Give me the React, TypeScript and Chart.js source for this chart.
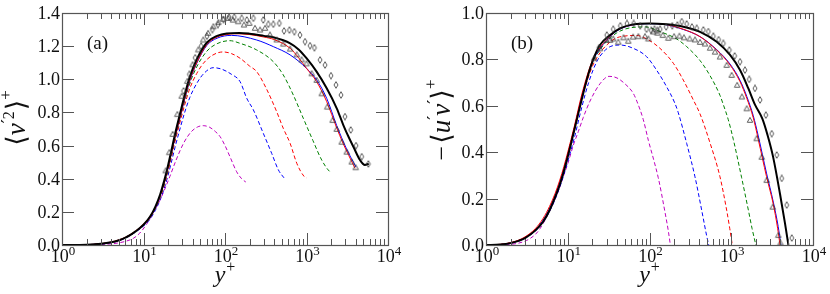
import React, { useEffect, useRef } from "react";
import { Chart, registerables } from "chart.js";
Chart.register(...registerables);

// ---------- Panel (a): <v'^2>+ ----------
const aBlackX = [1, 2, 3, 4, 5, 6, 7, 8, 10, 12, 14, 16, 18, 20, 22, 24.4, 28, 32, 37, 45, 60, 80, 105, 150, 200, 300, 400, 630, 800, 1000, 1330, 1770, 2350, 2830, 3300, 3760, 4530, 5200, 5800];
const aBlackY = [0, 0.002, 0.007, 0.016, 0.029, 0.045, 0.063, 0.082, 0.122, 0.17, 0.232, 0.305, 0.39, 0.48, 0.57, 0.67, 0.79, 0.905, 1.015, 1.12, 1.222, 1.262, 1.277, 1.28, 1.275, 1.262, 1.252, 1.217, 1.18, 1.127, 1.046, 0.946, 0.825, 0.724, 0.65, 0.593, 0.513, 0.483, 0.49];
const aRedX = [1, 2, 3, 4, 5, 6, 7, 8, 10, 12, 14, 16, 18, 20, 22, 24.4, 28, 32, 37, 45, 60, 80, 105, 130, 200, 300, 400, 630, 800, 1000, 1330, 1770, 2350, 2800, 3300, 3940];
const aRedY = [0, 0.002, 0.008, 0.018, 0.031, 0.047, 0.066, 0.085, 0.126, 0.172, 0.23, 0.3, 0.38, 0.465, 0.555, 0.65, 0.77, 0.885, 0.995, 1.1, 1.21, 1.255, 1.27, 1.275, 1.27, 1.255, 1.24, 1.187, 1.13, 1.066, 0.986, 0.865, 0.706, 0.615, 0.54, 0.463];
const aBlueX = [1, 2, 3, 4, 5, 6, 7, 8, 10, 12, 14, 16, 18, 20, 22, 24.4, 28, 32, 37, 45, 60, 80, 120, 245, 392, 630, 1000, 1334, 1770, 2350, 3100, 4050];
const aBlueY = [0, 0.002, 0.007, 0.016, 0.029, 0.045, 0.063, 0.082, 0.121, 0.168, 0.228, 0.298, 0.38, 0.465, 0.553, 0.648, 0.765, 0.88, 0.99, 1.097, 1.205, 1.248, 1.265, 1.237, 1.197, 1.147, 1.066, 0.996, 0.885, 0.72, 0.58, 0.47];
const aGreenX = [1, 2, 3, 4, 5, 6, 7, 8, 10, 12, 14, 16, 18, 20, 22, 24.4, 28, 32, 37, 45, 60, 80, 115, 153, 245, 392, 519, 689, 913, 1200, 1536, 1942, 2000];
const aGreenY = [0, 0.002, 0.007, 0.016, 0.028, 0.044, 0.062, 0.081, 0.12, 0.165, 0.224, 0.292, 0.37, 0.455, 0.545, 0.64, 0.76, 0.87, 0.975, 1.075, 1.17, 1.215, 1.233, 1.217, 1.177, 1.106, 1.026, 0.905, 0.765, 0.63, 0.513, 0.442, 0.44];
const aRedDX = [1, 2, 3, 4, 5, 6, 7, 8, 10, 12, 14, 16, 18, 20, 22, 24.4, 28, 32, 37, 45, 54, 70, 95, 120, 153, 200, 245, 320, 431, 519, 629, 760, 930, 1000];
const aRedDY = [0, 0.002, 0.007, 0.015, 0.027, 0.043, 0.061, 0.08, 0.118, 0.162, 0.22, 0.285, 0.36, 0.445, 0.53, 0.625, 0.74, 0.845, 0.945, 1.035, 1.095, 1.145, 1.165, 1.155, 1.127, 1.08, 1.046, 0.946, 0.804, 0.704, 0.614, 0.493, 0.415, 0.405];
const aBlueDX = [1, 2, 3, 4, 5, 6, 7, 8, 10, 12, 14, 16, 18, 20, 22, 24.4, 28, 32, 37, 45, 55, 72, 90, 120, 153, 185, 223, 295, 374, 452, 540];
const aBlueDY = [0, 0.002, 0.006, 0.014, 0.026, 0.041, 0.059, 0.078, 0.114, 0.155, 0.21, 0.272, 0.343, 0.42, 0.5, 0.59, 0.7, 0.8, 0.89, 0.975, 1.035, 1.07, 1.062, 1.03, 0.986, 0.885, 0.815, 0.674, 0.553, 0.453, 0.4];
const aMagX = [1, 2, 3, 4, 5, 6, 7.5, 9, 10.9, 13, 15.9, 18, 21, 25, 31, 38, 46, 54, 65, 76, 87, 100, 115, 139, 160, 180];
const aMagY = [0, 0.001, 0.003, 0.007, 0.013, 0.022, 0.04, 0.072, 0.125, 0.19, 0.27, 0.33, 0.412, 0.51, 0.614, 0.68, 0.712, 0.72, 0.71, 0.685, 0.654, 0.6, 0.533, 0.442, 0.4, 0.38];
const aTriX = [18.7, 20.7, 22.8, 26, 29.4, 34.5, 40, 47, 54, 62, 72, 83, 95, 110, 125, 145, 171, 199, 233, 269, 310, 356, 431, 520, 630, 760, 870, 1000, 1158, 1334, 1536, 1800, 2090, 2350, 2700, 3113, 3590, 4010];
const aTriY = [0.45, 0.56, 0.67, 0.79, 0.9, 0.99, 1.09, 1.18, 1.24, 1.28, 1.32, 1.345, 1.365, 1.37, 1.36, 1.35, 1.33, 1.34, 1.31, 1.3, 1.31, 1.27, 1.24, 1.215, 1.185, 1.15, 1.12, 1.096, 1.036, 0.996, 0.915, 0.835, 0.754, 0.7, 0.623, 0.563, 0.503, 0.469];
const aDiaX = [31, 36.5, 43, 51, 60, 70, 82, 96, 112, 130, 160, 185, 223, 295, 340, 392, 464, 530, 617, 709, 832, 959, 1104, 1250, 1465, 1687, 1997, 2300, 2650, 2967, 3485, 4050, 4755, 5740];
const aDiaY = [0.93, 1.03, 1.13, 1.2, 1.26, 1.3, 1.33, 1.36, 1.375, 1.375, 1.368, 1.358, 1.368, 1.358, 1.332, 1.332, 1.338, 1.292, 1.297, 1.287, 1.267, 1.227, 1.203, 1.19, 1.117, 1.086, 1.022, 0.966, 0.905, 0.775, 0.694, 0.6, 0.533, 0.489];

// ---------- Panel (b): -<u'v'>+ ----------
const bBlackX = [1, 1.5, 2, 2.5, 3, 4, 5, 6, 7, 8, 9, 10, 11.2, 12.9, 15, 17.5, 20.5, 24.8, 33, 43.6, 63, 101, 162, 259, 415, 664, 966, 1280, 1618, 1950, 2400, 2800, 3250, 3950, 4540, 5000];
const bBlackY = [0, 0.002, 0.008, 0.018, 0.03, 0.062, 0.1, 0.15, 0.205, 0.26, 0.32, 0.38, 0.45, 0.54, 0.635, 0.725, 0.8, 0.862, 0.905, 0.934, 0.951, 0.955, 0.951, 0.941, 0.919, 0.876, 0.819, 0.754, 0.675, 0.605, 0.545, 0.47, 0.38, 0.22, 0.094, 0];
const bRedX = [1, 1.5, 2, 2.5, 3, 4, 5, 6, 7, 8, 9, 10, 12, 15, 20, 25, 30, 40, 60, 100, 150, 259, 415, 664, 966, 1280, 1550, 1860, 2140, 2700, 3270, 3700, 3950];
const bRedY = [0, 0.003, 0.01, 0.021, 0.035, 0.07, 0.115, 0.167, 0.222, 0.28, 0.34, 0.4, 0.51, 0.655, 0.795, 0.852, 0.885, 0.925, 0.948, 0.955, 0.952, 0.93, 0.898, 0.84, 0.776, 0.704, 0.632, 0.548, 0.455, 0.295, 0.175, 0.07, 0];
const bBlueX = [1, 1.5, 2, 2.5, 3, 4, 5, 6, 7, 8, 9, 10, 12, 15, 20, 25, 30, 40, 60, 100, 150, 259, 415, 664, 966, 1280, 1550, 1860, 2140, 2700, 3270, 3750, 4050];
const bBlueY = [0, 0.002, 0.009, 0.019, 0.032, 0.065, 0.107, 0.157, 0.212, 0.27, 0.33, 0.39, 0.5, 0.645, 0.788, 0.848, 0.883, 0.923, 0.947, 0.954, 0.951, 0.929, 0.898, 0.842, 0.78, 0.71, 0.64, 0.557, 0.47, 0.31, 0.185, 0.08, 0];
const bGreenX = [1, 1.5, 2, 2.5, 3, 4, 5, 6, 7, 8, 9, 10, 12, 15, 20, 25, 30, 40, 60, 90, 134, 215, 285, 415, 550, 728, 800, 920, 1060, 1340, 1620, 1800, 2000];
const bGreenY = [0, 0.002, 0.009, 0.019, 0.032, 0.065, 0.107, 0.157, 0.212, 0.27, 0.33, 0.39, 0.5, 0.643, 0.783, 0.843, 0.878, 0.915, 0.937, 0.94, 0.92, 0.888, 0.855, 0.795, 0.73, 0.645, 0.605, 0.54, 0.455, 0.29, 0.15, 0.07, 0];
const bRedDX = [1, 1.5, 2, 2.5, 3, 4, 5, 6, 7, 8, 9, 10, 12, 15, 20, 25, 30, 38, 48, 70, 97, 134, 196, 259, 344, 415, 550, 728, 879, 960, 1030];
const bRedDY = [0, 0.002, 0.009, 0.019, 0.032, 0.064, 0.105, 0.155, 0.21, 0.265, 0.325, 0.385, 0.49, 0.635, 0.77, 0.83, 0.862, 0.89, 0.9, 0.903, 0.884, 0.848, 0.783, 0.711, 0.625, 0.565, 0.44, 0.294, 0.15, 0.07, 0];
const bBlueDX = [1, 1.5, 2, 2.5, 3, 4, 5, 6, 7, 8, 9, 10, 12, 15, 18, 22.6, 27, 33, 44, 63, 92, 122, 162, 205, 225, 285, 360, 435, 500, 530];
const bBlueDY = [0, 0.002, 0.008, 0.017, 0.029, 0.06, 0.098, 0.145, 0.197, 0.25, 0.305, 0.36, 0.46, 0.6, 0.7, 0.79, 0.83, 0.855, 0.862, 0.848, 0.812, 0.754, 0.682, 0.61, 0.57, 0.438, 0.294, 0.15, 0.04, 0];
const bMagX = [1, 1.5, 2, 2.5, 3.15, 4, 4.57, 5.5, 6.65, 8, 8.8, 10, 11.7, 13.5, 15.5, 18.7, 24.8, 32, 40, 50, 63, 70, 84, 97, 112, 128, 155, 170, 180];
const bMagY = [0, 0.001, 0.003, 0.008, 0.02, 0.045, 0.07, 0.12, 0.18, 0.25, 0.294, 0.35, 0.43, 0.49, 0.55, 0.62, 0.695, 0.727, 0.72, 0.695, 0.655, 0.62, 0.54, 0.45, 0.37, 0.29, 0.14, 0.06, 0];
const bTriX = [21, 24.8, 29.4, 33, 36, 41.5, 48, 55, 63, 73, 88, 97, 111, 125, 145, 170, 200, 232, 264, 310, 360, 415, 477, 550, 632, 728, 879, 1012, 1180, 1350, 1546, 1695, 2046, 2357, 2710, 3215, 3770, 4000];
const bTriY = [0.805, 0.848, 0.884, 0.884, 0.89, 0.876, 0.895, 0.88, 0.898, 0.9, 0.9, 0.89, 0.92, 0.915, 0.905, 0.893, 0.9, 0.902, 0.895, 0.89, 0.886, 0.875, 0.868, 0.85, 0.833, 0.812, 0.776, 0.733, 0.69, 0.64, 0.589, 0.539, 0.46, 0.38, 0.28, 0.165, 0.043, 0.01];
const bDiaX = [24, 30, 36, 44, 53, 64, 77, 92, 105, 115, 125, 135, 160, 190, 219, 248, 285, 330, 378, 456, 525, 604, 700, 800, 948, 1100, 1280, 1472, 1660, 1950, 2250, 2650, 3125, 3600, 4140, 4770, 5500];
const bDiaY = [0.85, 0.905, 0.93, 0.945, 0.955, 0.955, 0.945, 0.93, 0.925, 0.93, 0.925, 0.93, 0.94, 0.945, 0.948, 0.963, 0.953, 0.94, 0.934, 0.927, 0.92, 0.9, 0.885, 0.869, 0.84, 0.815, 0.79, 0.754, 0.714, 0.675, 0.625, 0.56, 0.48, 0.388, 0.287, 0.172, 0.03];

// ---------- tick labels ----------
const yTicksA = [0, 0.2, 0.4, 0.6, 0.8, 1.0, 1.2, 1.4];
const yTicksB = [0, 0.2, 0.4, 0.6, 0.8, 1.0];
const xDecades = [0, 1, 2, 3, 4];

const FF = '"Liberation Serif", serif';
const BR = '"DejaVu Sans", sans-serif';
type Seg = { t: string; size: number; italic?: boolean; dy?: number; dx?: number; fam?: string };
const fontOf = (s: Seg) => `${s.italic ? "italic " : ""}${s.size}px ${s.fam || FF}`;

function richWidth(ctx: CanvasRenderingContext2D, segs: Seg[]) {
  let w = 0;
  for (const s of segs) {
    ctx.font = fontOf(s);
    w += ctx.measureText(s.t).width + (s.dx || 0);
  }
  return w;
}
function drawRich(ctx: CanvasRenderingContext2D, segs: Seg[], x: number, y: number, align: string) {
  const w = richWidth(ctx, segs);
  let cx = align === "center" ? x - w / 2 : align === "right" ? x - w : x;
  ctx.textAlign = "left";
  ctx.textBaseline = "alphabetic";
  for (const s of segs) {
    ctx.font = fontOf(s);
    cx += s.dx || 0;
    ctx.fillText(s.t, cx, y + (s.dy || 0));
    cx += ctx.measureText(s.t).width;
  }
}

function pts(xs: number[], ys: number[]) {
  return xs.map((x, i) => ({ x, y: ys[i] }));
}

function makeMarker(kind: string) {
  const c = document.createElement("canvas");
  c.width = 8;
  c.height = 8;
  const g = c.getContext("2d")!;
  g.strokeStyle = "#333";
  g.lineWidth = 0.8;
  g.beginPath();
  if (kind === "tri") {
    g.moveTo(4, 1.4);
    g.lineTo(6.7, 6.3);
    g.lineTo(1.3, 6.3);
  } else {
    g.moveTo(4, 0.7);
    g.lineTo(6.0, 4.0);
    g.lineTo(4, 7.3);
    g.lineTo(2.0, 4.0);
  }
  g.closePath();
  g.stroke();
  return c;
}

type PanelCfg = {
  yTicks: number[];
  ymax: number;
  yWidth: number;
  rightPad: number;
  letter: string;
  yTitle: Seg[];
  yTitleX: number;
  yTitleY: number;
};

function framePlugin(cfg: PanelCfg) {
  return {
    id: "frame" + cfg.letter,
    afterDraw(chart: any) {
      const { ctx, chartArea } = chart;
      const { left, right, top, bottom } = chartArea;
      const xs = chart.scales.x;
      const ys = chart.scales.y;
      ctx.save();
      ctx.strokeStyle = "#555";
      ctx.lineWidth = 1;
      ctx.beginPath();
      for (let d = 0; d < 4; d++) {
        for (let k = 1; k <= 9; k++) {
          const v = k * Math.pow(10, d);
          const px = Math.round(xs.getPixelForValue(v)) + 0.5;
          const len = k === 1 ? 12 : 6;
          ctx.moveTo(px, bottom);
          ctx.lineTo(px, bottom - len);
          ctx.moveTo(px, top);
          ctx.lineTo(px, top + len);
        }
      }
      for (const t of cfg.yTicks) {
        const py = Math.round(ys.getPixelForValue(t)) + 0.5;
        ctx.moveTo(left, py);
        ctx.lineTo(left + 12, py);
        ctx.moveTo(right, py);
        ctx.lineTo(right - 12, py);
      }
      ctx.stroke();
      ctx.lineWidth = 1.2;
      ctx.strokeRect(Math.round(left) + 0.5, Math.round(top) + 0.5, Math.round(right - left), Math.round(bottom - top));

      ctx.fillStyle = "#111";
      for (const t of cfg.yTicks) {
        const py = ys.getPixelForValue(t);
        drawRich(ctx, [{ t: t.toFixed(1), size: 18 }], left - 2, py + 6, "right");
      }
      for (const d of xDecades) {
        const px = xs.getPixelForValue(Math.pow(10, d));
        drawRich(ctx, [{ t: "10", size: 18 }, { t: String(d), size: 13, dy: -7 }], px + 1, bottom + 17, "center");
      }
      drawRich(ctx, [{ t: "y", size: 24, italic: true }, { t: "+", size: 16, dy: -10, dx: 1 }], (left + right) / 2, bottom + 37, "center");
      drawRich(ctx, [{ t: "(" + cfg.letter + ")", size: 19 }], left + 25, top + 36, "left");
      ctx.save();
      ctx.translate(cfg.yTitleX, cfg.yTitleY);
      ctx.rotate(-Math.PI / 2);
      drawRich(ctx, cfg.yTitle, 0, 0, "center");
      ctx.restore();
      ctx.restore();
    },
  };
}

function lineDs(data: any, color: string, width: number, dash: number[], order: number) {
  return {
    data,
    borderColor: color,
    backgroundColor: color,
    borderWidth: width,
    borderDash: dash,
    pointRadius: 0,
    fill: false,
    cubicInterpolationMode: "monotone",
    order,
  };
}
function markDs(data: any, img: any, order: number) {
  return {
    data,
    showLine: false,
    pointStyle: img,
    pointRadius: 4,
    borderColor: "#333",
    backgroundColor: "transparent",
    order,
  };
}

const DASH = [4, 2.5];

function Panel(props: { which: string; left: number }) {
  const ref = useRef<HTMLCanvasElement>(null);
  useEffect(() => {
    const tri = makeMarker("tri");
    const dia = makeMarker("dia");
    const isA = props.which === "a";
    const datasets = isA
      ? [
          markDs(pts(aTriX, aTriY), tri, 0),
          markDs(pts(aDiaX, aDiaY), dia, 0),
          lineDs(pts(aBlackX, aBlackY), "#000", 2, [], 1),
          lineDs(pts(aRedX, aRedY), "#ff0000", 1, [], 2),
          lineDs(pts(aBlueX, aBlueY), "#0000ff", 1, [], 3),
          lineDs(pts(aGreenX, aGreenY), "#008000", 1, DASH, 4),
          lineDs(pts(aRedDX, aRedDY), "#ff0000", 1, DASH, 5),
          lineDs(pts(aBlueDX, aBlueDY), "#0000ff", 1, DASH, 6),
          lineDs(pts(aMagX, aMagY), "#bf00bf", 1, DASH, 7),
        ]
      : [
          markDs(pts(bTriX, bTriY), tri, 0),
          markDs(pts(bDiaX, bDiaY), dia, 0),
          lineDs(pts(bBlackX, bBlackY), "#000", 2, [], 1),
          lineDs(pts(bRedX, bRedY), "#ff0000", 1, [], 2),
          lineDs(pts(bBlueX, bBlueY), "#0000ff", 1, [], 3),
          lineDs(pts(bGreenX, bGreenY), "#008000", 1, DASH, 4),
          lineDs(pts(bRedDX, bRedDY), "#ff0000", 1, DASH, 5),
          lineDs(pts(bBlueDX, bBlueDY), "#0000ff", 1, DASH, 6),
          lineDs(pts(bMagX, bMagY), "#bf00bf", 1, DASH, 7),
        ];
    const cfg: PanelCfg = isA
      ? {
          yTicks: yTicksA,
          ymax: 1.4,
          yWidth: 62,
          rightPad: 27,
          letter: "a",
          yTitle: [
            { t: "\u27E8", size: 27, fam: BR },
            { t: "v", size: 27, italic: true },
            { t: "\u2032", size: 18, dy: -11, fam: BR },
            { t: "2", size: 16, dy: -11 },
            { t: "\u27E9", size: 27, dx: 1, fam: BR },
            { t: "+", size: 17, dy: -14 },
          ],
          yTitleX: 25,
          yTitleY: 118,
        }
      : {
          yTicks: yTicksB,
          ymax: 1.0,
          yWidth: 71,
          rightPad: 17,
          letter: "b",
          yTitle: [
            { t: "\u2212", size: 26 },
            { t: "\u27E8", size: 27, dx: 2, fam: BR },
            { t: "u", size: 27, italic: true },
            { t: "\u2032", size: 18, dy: -10, fam: BR },
            { t: "v", size: 27, italic: true },
            { t: "\u2032", size: 18, dy: -10, fam: BR },
            { t: "\u27E9", size: 27, fam: BR },
            { t: "+", size: 17, dy: -14 },
          ],
          yTitleX: 35,
          yTitleY: 120,
        };
    const chart = new Chart(ref.current!, {
      type: "line",
      data: { datasets: datasets as any },
      options: {
        animation: false,
        responsive: false,
        devicePixelRatio: 1,
        layout: { padding: { top: 13, right: cfg.rightPad, left: 0, bottom: 0 } },
        plugins: { legend: { display: false }, tooltip: { enabled: false } },
        scales: {
          x: {
            type: "logarithmic",
            min: 1,
            max: 10000,
            grid: { display: false },
            border: { display: false },
            ticks: { display: false },
            afterFit: (s: any) => {
              s.height = 49;
            },
          },
          y: {
            type: "linear",
            min: 0,
            max: cfg.ymax,
            grid: { display: false },
            border: { display: false },
            ticks: { display: false },
            afterFit: (s: any) => {
              s.width = cfg.yWidth;
            },
          },
        },
      } as any,
      plugins: [framePlugin(cfg)],
    });
    return () => {
      chart.destroy();
    };
  }, [props.which]);
  return (
    <canvas
      ref={ref}
      width={415}
      height={294}
      style={{ position: "absolute", left: props.left, top: 0, width: 415, height: 294 }}
    />
  );
}

export default function App() {
  return (
    <div style={{ position: "fixed", left: 0, top: 0, width: 830, height: 294, background: "#fff" }}>
      <Panel which="a" left={0} />
      <Panel which="b" left={415} />
    </div>
  );
}
